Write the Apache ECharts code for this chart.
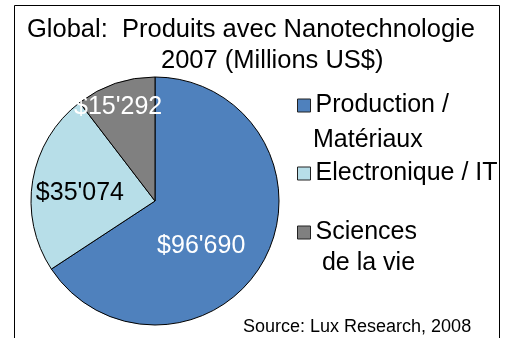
<!DOCTYPE html>
<html>
<head>
<meta charset="utf-8">
<script src="https://cdn.jsdelivr.net/npm/echarts@6/dist/echarts.min.js"></script>
<style>
  html, body { margin: 0; padding: 0; background: #fff; }
  #chart { width: 506px; height: 338px; }
</style>
</head>
<body>
<div id="chart"></div>
<script>
// Nanotech product revenue by segment, 2007 (millions of US$)
const categories = ['Production / Matériaux', 'Electronique / IT', 'Sciences de la vie'];
const legendFirstLines = ['Production /', 'Electronique / IT', 'Sciences'];
const legendSecondLines = ['Matériaux', '', ' de la vie'];
const values = [96690, 35074, 15292];
const colors = ['#4F81BD', '#B7DEE8', '#808080'];
const labelColors = ['#ffffff', '#000000', '#ffffff'];

const FONT = '"Liberation Sans", Arial, sans-serif';

function fmtMoney(v) {
  return '$' + String(v).replace(/\B(?=(\d{3})+(?!\d))/g, "'");
}

// nudges for the in-slice labels
const labelShift = [[-11, 14], [-11, 3], [-16, -32]];

const legendTops = [93, 161, 220];

const chart = echarts.init(document.getElementById('chart'), null, { renderer: 'canvas' });

const legends = categories.map((name, i) => ({
  data: [name],
  left: 297,
  top: legendTops[i],
  padding: 0,
  orient: 'vertical',
  itemWidth: 13,
  itemHeight: 13,
  icon: 'rect',
  selectedMode: false,
  itemStyle: { borderColor: '#222', borderWidth: 1 },
  formatter: () => legendFirstLines[i],
  textStyle: { fontFamily: FONT, fontSize: 25, color: '#000' }
}));

const secondLineGraphics = [
  { text: legendSecondLines[0], x: 313, y: 140 },
  { text: legendSecondLines[2], x: 315, y: 263 }
].map(t => ({
  type: 'text',
  x: t.x, y: t.y,
  style: {
    text: t.text, fontFamily: FONT, fontSize: 25, fill: '#000',
    verticalAlign: 'middle'
  }
}));

chart.setOption({
  animation: false,
  backgroundColor: '#fff',
  title: [
    {
      text: 'Global:  Produits avec Nanotechnologie',
      left: 27, top: 17, padding: 0,
      textStyle: { fontFamily: FONT, fontSize: 25.5, fontWeight: 'normal', color: '#000' }
    },
    {
      text: '2007 (Millions US$)',
      left: 161, top: 48, padding: 0,
      textStyle: { fontFamily: FONT, fontSize: 25.5, fontWeight: 'normal', color: '#000' }
    }
  ],
  legend: legends,
  graphic: [
    {
      type: 'rect',
      shape: { x: 14.5, y: 5.5, width: 485, height: 360 },
      style: { fill: 'none', stroke: '#000', lineWidth: 1 },
      silent: true
    },
    ...secondLineGraphics,
    {
      type: 'text',
      x: 243, y: 327,
      style: {
        text: 'Source: Lux Research, 2008', fontFamily: FONT, fontSize: 18, fill: '#000',
        verticalAlign: 'middle'
      }
    }
  ],
  series: [{
    type: 'pie',
    center: [155, 201],
    radius: [0, 124],
    startAngle: 90,
    clockwise: true,
    avoidLabelOverlap: false,
    data: categories.map((name, i) => ({
      name,
      value: values[i],
      itemStyle: { color: colors[i] },
      label: { color: labelColors[i] }
    })),
    itemStyle: { borderColor: '#000', borderWidth: 1 },
    label: {
      show: true,
      position: 'inside',
      formatter: p => fmtMoney(p.value),
      fontFamily: FONT,
      fontSize: 25
    },
    labelLine: { show: false },
    labelLayout: p => ({ dx: labelShift[p.dataIndex][0], dy: labelShift[p.dataIndex][1] }),
    emphasis: { disabled: true }
  }]
});
</script>
</body>
</html>
